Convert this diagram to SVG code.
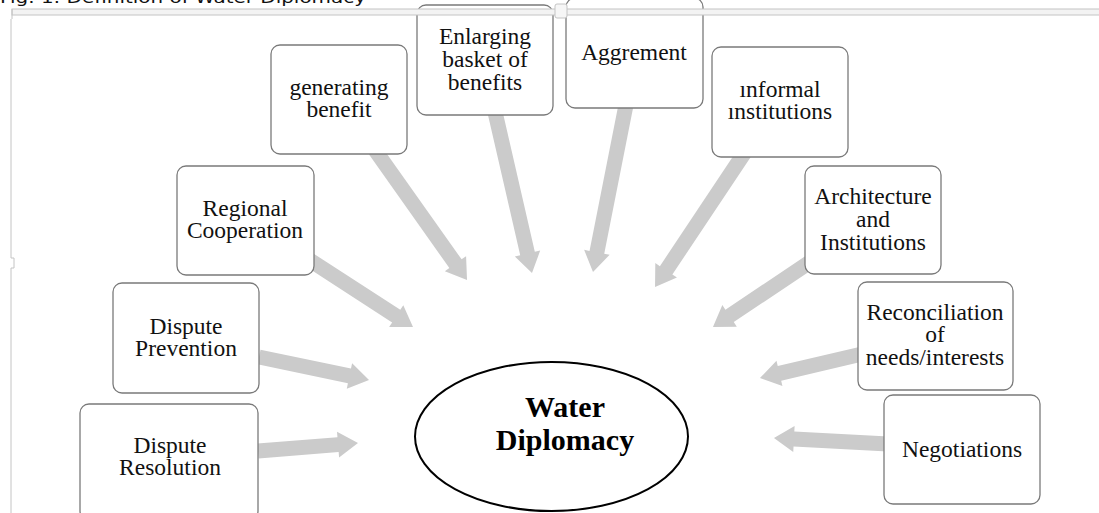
<svg xmlns="http://www.w3.org/2000/svg" width="1099" height="513" viewBox="0 0 1099 513">
  <style>
    .box { fill: #ffffff; stroke: #7a7a7a; stroke-width: 1.3; }
    .lbl { font-family: "Liberation Serif", "Times New Roman", serif; font-size: 23.5px; fill: #111111; text-anchor: middle; }
    .core { font-family: "Liberation Serif", "Times New Roman", serif; font-size: 30px; font-weight: bold; fill: #000000; text-anchor: middle; }
    .arrow { fill: #cbcbcb; }
    .caption { font-family: "DejaVu Sans", Verdana, sans-serif; font-size: 16px; fill: #111111; }
  </style>

  <rect width="1099" height="513" fill="#ffffff"/>

  <!-- caption line, partly above the page edge -->
  <text class="caption" x="0" y="3" textLength="366" lengthAdjust="spacingAndGlyphs">Fig. 1: Definition of Water Diplomacy</text>

  <!-- block arrows pointing at the centre -->
  <g id="connectors">
    <path class="arrow" transform="translate(258,451) rotate(-4.57)" d="M0,-7.5 L80.3,-7.5 L80.3,-13 L100.3,0 L80.3,13 L80.3,7.5 L0,7.5 Z"/>
    <path class="arrow" transform="translate(259,357) rotate(11.81)" d="M0,-7.5 L92.4,-7.5 L92.4,-13 L112.4,0 L92.4,13 L92.4,7.5 L0,7.5 Z"/>
    <path class="arrow" transform="translate(305,257) rotate(32.95)" d="M0,-7.5 L108.7,-7.5 L108.7,-13 L128.7,0 L108.7,13 L108.7,7.5 L0,7.5 Z"/>
    <path class="arrow" transform="translate(375,150) rotate(54.71)" d="M0,-7.5 L139.3,-7.5 L139.3,-13 L159.3,0 L139.3,13 L139.3,7.5 L0,7.5 Z"/>
    <path class="arrow" transform="translate(495,112) rotate(77.06)" d="M0,-7.5 L145.2,-7.5 L145.2,-13 L165.2,0 L145.2,13 L145.2,7.5 L0,7.5 Z"/>
    <path class="arrow" transform="translate(626,105) rotate(101.18)" d="M0,-7.5 L150.2,-7.5 L150.2,-13 L170.2,0 L150.2,13 L150.2,7.5 L0,7.5 Z"/>
    <path class="arrow" transform="translate(745,152) rotate(123.69)" d="M0,-7.5 L142.2,-7.5 L142.2,-13 L162.2,0 L142.2,13 L142.2,7.5 L0,7.5 Z"/>
    <path class="arrow" transform="translate(810,262) rotate(146.18)" d="M0,-7.5 L96.8,-7.5 L96.8,-13 L116.8,0 L96.8,13 L96.8,7.5 L0,7.5 Z"/>
    <path class="arrow" transform="translate(862,354) rotate(166.76)" d="M0,-7.5 L84.8,-7.5 L84.8,-13 L104.8,0 L84.8,13 L84.8,7.5 L0,7.5 Z"/>
    <path class="arrow" transform="translate(888,444) rotate(183.01)" d="M0,-7.5 L94.2,-7.5 L94.2,-13 L114.2,0 L94.2,13 L94.2,7.5 L0,7.5 Z"/>
  </g>

  <g id="dispute-resolution">
    <rect class="box" x="80" y="404" width="178" height="116" rx="9"/>
    <text class="lbl" x="170" y="453">Dispute</text>
    <text class="lbl" x="170" y="475">Resolution</text>
  </g>

  <g id="dispute-prevention">
    <rect class="box" x="113" y="283" width="146" height="110" rx="9"/>
    <text class="lbl" x="186" y="334">Dispute</text>
    <text class="lbl" x="186" y="356">Prevention</text>
  </g>

  <g id="regional-cooperation">
    <rect class="box" x="177" y="166" width="137" height="109" rx="9"/>
    <text class="lbl" x="245" y="216">Regional</text>
    <text class="lbl" x="245" y="238">Cooperation</text>
  </g>

  <g id="generating-benefit">
    <rect class="box" x="271" y="45" width="136" height="109" rx="9"/>
    <text class="lbl" x="339" y="95">generating</text>
    <text class="lbl" x="339" y="117">benefit</text>
  </g>

  <g id="enlarging-basket">
    <rect class="box" x="417" y="5" width="136" height="110" rx="9"/>
    <text class="lbl" x="485" y="44">Enlarging</text>
    <text class="lbl" x="485" y="67">basket of</text>
    <text class="lbl" x="485" y="90">benefits</text>
  </g>

  <g id="agreement">
    <rect class="box" x="566" y="-2" width="137" height="110" rx="9"/>
    <text class="lbl" x="634" y="60">Aggrement</text>
  </g>

  <g id="informal-institutions">
    <rect class="box" x="712" y="47" width="136" height="110" rx="9"/>
    <text class="lbl" x="780" y="97">ınformal</text>
    <text class="lbl" x="780" y="119">ınstitutions</text>
  </g>

  <g id="architecture-institutions">
    <rect class="box" x="805" y="166" width="136" height="108" rx="9"/>
    <text class="lbl" x="873" y="204">Architecture</text>
    <text class="lbl" x="873" y="227">and</text>
    <text class="lbl" x="873" y="250">Institutions</text>
  </g>

  <g id="reconciliation">
    <rect class="box" x="858" y="282" width="155" height="108" rx="9"/>
    <text class="lbl" x="935" y="320">Reconciliation</text>
    <text class="lbl" x="935" y="342">of</text>
    <text class="lbl" x="935" y="365">needs/interests</text>
  </g>

  <g id="negotiations">
    <rect class="box" x="884" y="395" width="156" height="109" rx="9"/>
    <text class="lbl" x="962" y="457">Negotiations</text>
  </g>

  <g id="water-diplomacy">
    <ellipse cx="551.5" cy="436.5" rx="136.5" ry="74.5" fill="#ffffff" stroke="#000000" stroke-width="2"/>
    <text class="core" x="565" y="417">Water</text>
    <text class="core" x="565" y="450">Diplomacy</text>
  </g>

  <!-- page ruler along the top and the left margin -->
  <g id="ruler" fill="none" stroke="#c4c4c4" stroke-width="1">
    <rect x="12" y="9" width="1090" height="6" fill="#f3f3f3"/>
    <path d="M12,9 L12,19"/>
    <path d="M11,19 L11,258 L14,258 L14,268 L11,268 L11,513"/>
    <rect x="555" y="4" width="12" height="14" rx="2" fill="#f6f6f6"/>
  </g>
</svg>
